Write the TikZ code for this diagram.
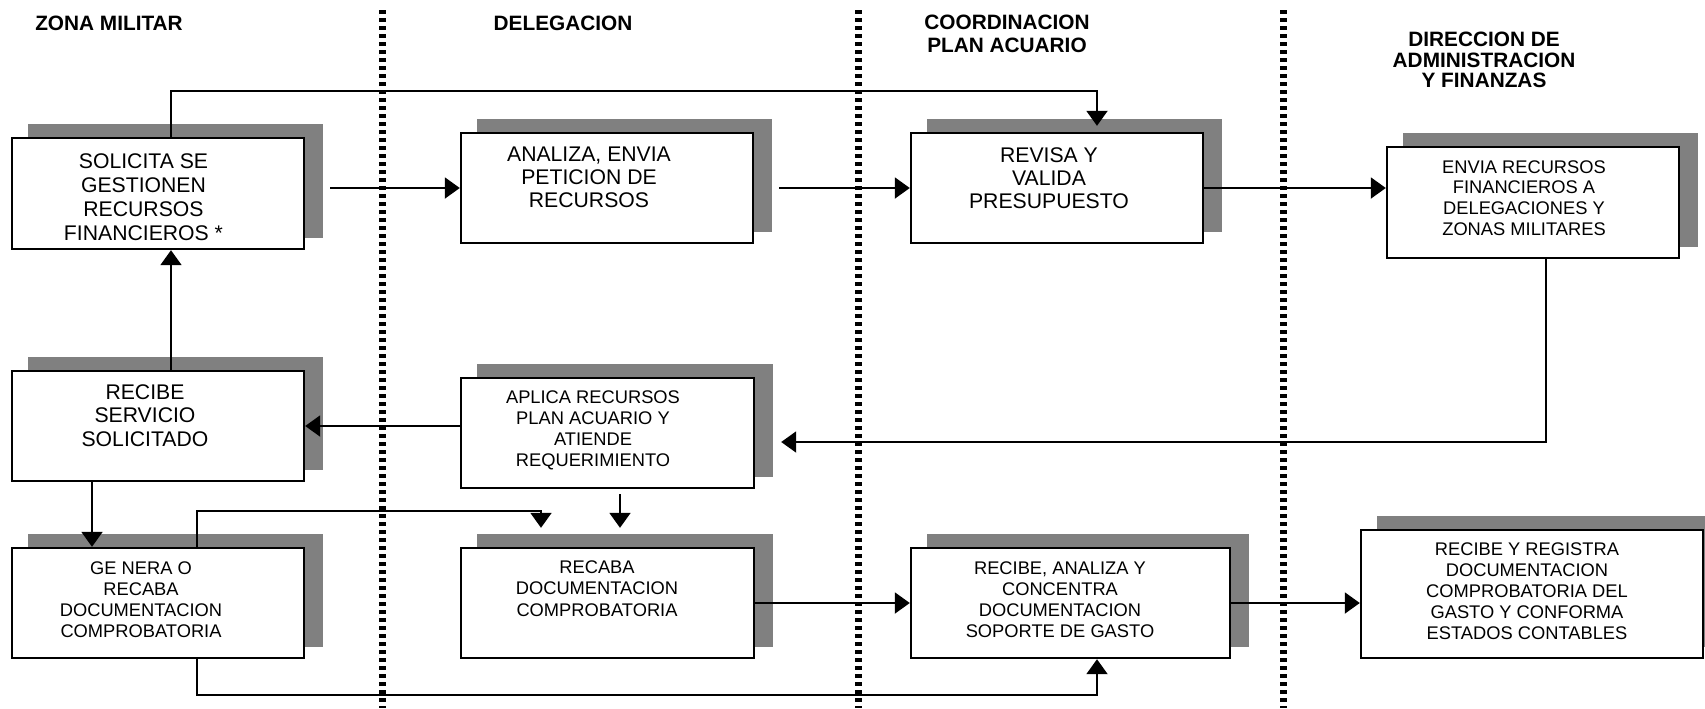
\documentclass[tikz,border=0pt]{standalone}
\usepackage{fontspec}
\setmainfont{Liberation Sans}
\usetikzlibrary{arrows.meta}
\definecolor{shadowgray}{HTML}{808080}
\pgfdeclarelayer{bg}
\pgfsetlayers{bg,main}
\begin{document}
\begin{tikzpicture}[x=0.5pt,y=-0.5pt,
  box/.style={draw=black, line width=1.2pt, fill=white, rectangle, inner sep=0pt},
  bx/.style 2 args={minimum width=#1*0.5pt, minimum height=#2*0.5pt},
  txt/.style={anchor=north, inner sep=0pt, align=center},
  big/.style={font={\fontsize{10.6pt}{#1}\selectfont}},
  small/.style={font={\fontsize{9.15pt}{#1}\selectfont}},
  hdr/.style={anchor=north, inner sep=0pt, align=center, font={\bfseries\fontsize{10.4pt}{#1}\selectfont}},
  conn/.style={line width=1pt},
  arr/.style={conn, -{Triangle[width=10.5pt,length=7.5pt]}},
  lane/.style={line width=3.5pt, dash pattern=on 2pt off 2pt},
  shadowbox/.style={fill=shadowgray}
]
\useasboundingbox (0,0) rectangle (1705,708);
\clip (0,0) rectangle (1705,708);

% swimlane separators
\draw[lane] (382.5,10) -- (382.5,708);
\draw[lane] (858.5,10) -- (858.5,708);
\draw[lane] (1283.5,10) -- (1283.5,708);

% headers
\node[hdr=11.5pt] (h1) at (109,16) {ZONA MILITAR};
\node[hdr=11.5pt] (h2) at (563,16) {DELEGACION};
\node[hdr=11.5pt] (h3) at (1007,15) {COORDINACION\\PLAN ACUARIO};
\node[hdr=10.25pt] (h4) at (1484,32) {DIRECCION DE\\ADMINISTRACION\\Y FINANZAS};

% boxes
\node[box, bx={292}{111}] (b1) at (158,193.5) {};
\node[box, bx={292}{110}] (b2) at (607,188) {};
\node[box, bx={292}{110}] (b3) at (1057,188) {};
\node[box, bx={292}{111}] (b4) at (1533,202.5) {};
\node[box, bx={292}{110}] (b5) at (158,426) {};
\node[box, bx={293}{110}] (b6) at (607.5,433) {};
\node[box, bx={293}{110}] (b7) at (607.5,603) {};
\node[box, bx={292}{110}] (b8) at (158,603) {};
\node[box, bx={319}{110}] (b9) at (1070.5,603) {};
\node[box, bx={342}{128}] (b10) at (1532,594) {};

% shadows
\begin{pgfonlayer}{bg}
\foreach \b in {b1,b2,b3,b4,b5,b6,b7,b8,b9,b10}{
  \fill[shadowbox] ([xshift=8.75pt,yshift=6.25pt]\b.south west) rectangle ([xshift=8.75pt,yshift=6.25pt]\b.north east);
}
\end{pgfonlayer}

% texts
\node[txt, big=12pt] (t1) at (143.5,153) {SOLICITA SE\\GESTIONEN\\RECURSOS\\FINANCIEROS *};
\node[txt, big=11.5pt] (t2) at (589,147) {ANALIZA, ENVIA\\PETICION DE\\RECURSOS};
\node[txt, big=11.5pt] (t3) at (1049,147) {REVISA Y\\VALIDA\\PRESUPUESTO};
\node[txt, small=10.35pt] (t4) at (1524,160) {ENVIA RECURSOS\\FINANCIEROS A\\DELEGACIONES Y\\ZONAS MILITARES};
\node[txt, big=11.75pt] (t5) at (145,384) {RECIBE\\SERVICIO\\SOLICITADO};
\node[txt, small=10.5pt] (t6) at (593,390) {APLICA RECURSOS\\PLAN ACUARIO Y\\ATIENDE\\REQUERIMIENTO};
\node[txt, small=10.75pt] (t7) at (597,560) {RECABA\\DOCUMENTACION\\COMPROBATORIA};
\node[txt, small=10.5pt] (t8) at (141,561) {GE NERA O\\RECABA\\DOCUMENTACION\\COMPROBATORIA};
\node[txt, small=10.5pt] (t9) at (1060,561) {RECIBE, ANALIZA Y\\CONCENTRA\\DOCUMENTACION\\SOPORTE DE GASTO};
\node[txt, small=10.5pt] (t10) at (1527,542) {RECIBE Y REGISTRA\\DOCUMENTACION\\COMPROBATORIA DEL\\GASTO Y CONFORMA\\ESTADOS CONTABLES};

% connectors
\draw[arr] ([xshift=6.5pt]b1.north) -- ++(0,-46) -| ([xshift=20pt,yshift=3pt]b3.north);
\draw[arr] ([xshift=12.5pt]b1.east |- b2.west) -- (b2.west);
\draw[arr] ([xshift=12.5pt]b2.east) -- (b3.west);
\draw[arr] (b3.east) -- (b3.east -| b4.west);
\coordinate (e6) at ([xshift=13pt,yshift=-4.5pt]b6.east);
\draw[arr] ([xshift=6.5pt]b4.south) |- (e6);
\draw[arr] (b6.west |- b5.east) -- (b5.east);
\draw[arr] ([xshift=6.5pt]b5.north) -- ([xshift=6.5pt]b1.south);
\draw[arr] ([xshift=-33pt]b5.south) -- ([xshift=-33pt]b8.north);
\draw[arr] ([xshift=19.5pt]b8.north) -- ++(0,-36) -| ([xshift=-33.25pt,yshift=9.5pt]b7.north);
\draw[arr] ([xshift=6.25pt,yshift=-2.5pt]b6.south) -- ([xshift=6.25pt,yshift=9.5pt]b7.north);
\draw[arr] ([xshift=19.5pt]b8.south) -- ++(0,36) -| ([xshift=13.25pt]b9.south);
\draw[arr] (b7.east) -- (b9.west);
\draw[arr] (b9.east) -- (b9.east -| b10.west);
\end{tikzpicture}
\end{document}
